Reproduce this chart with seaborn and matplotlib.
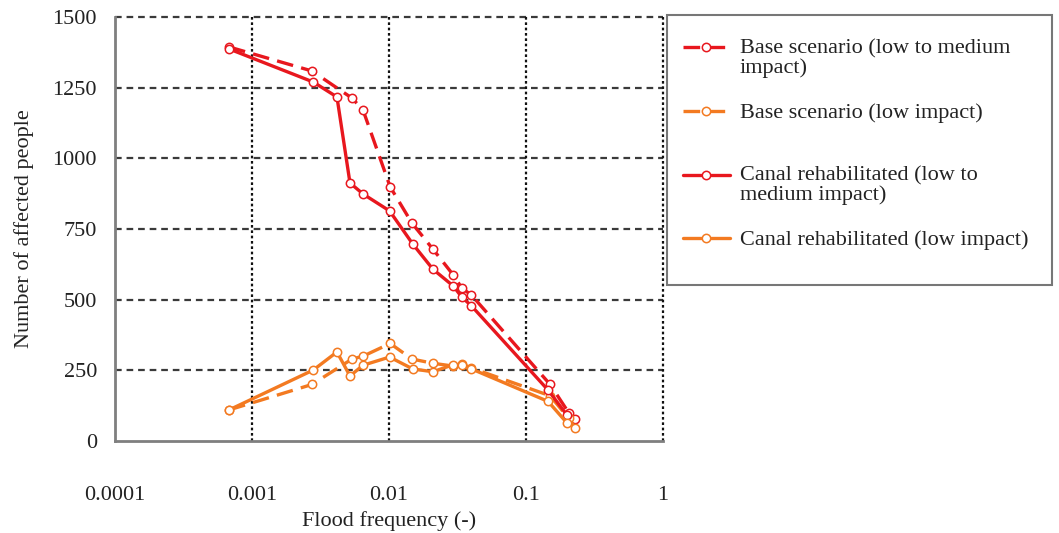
import numpy as np
import pandas as pd
import matplotlib
matplotlib.use("Agg")
import matplotlib.pyplot as plt
import seaborn as sns
from matplotlib.ticker import FixedLocator, FixedFormatter, NullLocator
from matplotlib.legend_handler import HandlerLine2D
from matplotlib.patches import Rectangle

# ---- data ----
base_med_freq = [0.00068, 0.00274, 0.00537, 0.00646, 0.0102, 0.0147, 0.0209, 0.0295, 0.034, 0.040, 0.150, 0.205, 0.228]
base_med_vals = [1394, 1309, 1213, 1171, 899, 771, 679, 587, 541, 516, 200, 100, 78]

base_low_freq = [0.00068, 0.00274, 0.00537, 0.00646, 0.0102, 0.0147, 0.0209, 0.0295, 0.034, 0.040, 0.150, 0.205, 0.228]
base_low_vals = [110, 200, 290, 300, 345, 290, 275, 265, 272, 258, 160, 80, 46]

canal_med_freq = [0.00068, 0.00280, 0.00417, 0.00519, 0.00646, 0.0101, 0.0149, 0.0209, 0.0295, 0.034, 0.040, 0.145, 0.199]
canal_med_vals = [1387, 1270, 1217, 913, 874, 814, 697, 608, 548, 509, 478, 180, 92]

canal_low_freq = [0.00068, 0.00280, 0.00417, 0.00519, 0.00646, 0.0101, 0.0149, 0.0209, 0.0295, 0.034, 0.040, 0.145, 0.199]
canal_low_vals = [110, 251, 315, 230, 268, 297, 255, 245, 270, 268, 255, 140, 64]

labels = ["Base scenario (low to medium\nimpact)",
          "Base scenario (low impact)\n ",
          "Canal rehabilitated (low to\nmedium impact)",
          "Canal rehabilitated (low impact)\n "]

x_ticks = [0.0001, 0.001, 0.01, 0.1, 1]
x_ticklabels = ["0.0001", "0.001", "0.01", "0.1", "1"]
y_ticks = [0, 250, 500, 750, 1000, 1250, 1500]

RED = "#E8171E"
ORANGE = "#F37A21"
FS = 16
LINESP = 1.0

sns.set_style("white")
plt.rcParams['font.family'] = ['Liberation Serif', 'DejaVu Serif']
plt.rcParams['font.size'] = FS

fig = plt.figure(figsize=(10.59, 5.33), dpi=100)
ax = fig.add_axes([115/1059, 1-441/533, (663-115)/1059, (441-17)/533])

series = [
    (base_med_freq, base_med_vals, RED, (5, 2.5)),
    (base_low_freq, base_low_vals, ORANGE, (5, 2.5)),
    (canal_med_freq, canal_med_vals, RED, None),
    (canal_low_freq, canal_low_vals, ORANGE, None),
]
for (fx, vy, col, dash), lab in zip(series, labels):
    df = pd.DataFrame({"f": fx, "n": vy})
    sns.lineplot(data=df, x="f", y="n", ax=ax, sort=False, color=col,
                 linewidth=2.4, marker="o", markersize=6,
                 markerfacecolor="white", markeredgecolor=col, markeredgewidth=1.1,
                 label=lab, zorder=3)
    ln = ax.lines[-1]
    if dash is not None:
        ln.set_dashes(dash)

ax.set_xscale("log")
ax.set_xlim(1e-4, 1)
ax.set_ylim(0, 1500)
ax.xaxis.set_major_locator(FixedLocator(x_ticks))
ax.xaxis.set_major_formatter(FixedFormatter(x_ticklabels))
ax.xaxis.set_minor_locator(NullLocator())
ax.set_yticks(y_ticks)

# grid
for yv in y_ticks[1:]:
    ax.axhline(yv, color="#3a3a3a", lw=1.6, dashes=(3, 2.2), zorder=1, clip_on=False)
for xv in x_ticks[1:]:
    ax.axvline(xv, color="#111111", lw=1.6, dashes=(1.2, 1.2), zorder=1, clip_on=False)

for s in ["top", "right"]:
    ax.spines[s].set_visible(False)
for s in ["left", "bottom"]:
    ax.spines[s].set_color("#7f7f7f")
    ax.spines[s].set_linewidth(2)
ax.tick_params(axis="both", which="major", direction="inout", length=7, width=1.5, color="#555555",
               labelsize=FS, labelcolor="#222222")
ax.tick_params(axis="x", pad=29)
ax.tick_params(axis="y", pad=9.5)

ax.set_xlabel("Flood frequency (-)", fontsize=FS, color="#222222", labelpad=4)
ax.set_ylabel("Number of affected people", fontsize=FS, color="#222222", labelpad=13)


class TopHandler(HandlerLine2D):
    """Place the legend handle level with the first line of a two-line label."""
    def create_artists(self, legend, orig_handle, xdescent, ydescent, width, height, fontsize, trans):
        arts = super().create_artists(legend, orig_handle, xdescent, ydescent, width, height, fontsize, trans)
        shift = 0.5 * LINESP * 0.82 * fontsize + 1.0
        for a in arts:
            a.set_ydata(np.asarray(a.get_ydata()) + shift)
        return arts


h, l = ax.get_legend_handles_labels()
if ax.get_legend():
    ax.get_legend().remove()
leg = fig.legend(h, l, loc="upper left", bbox_to_anchor=(683/1059, 1-39/533),
                 frameon=False, fontsize=FS,
                 handlelength=2.1, handletextpad=0.45, labelspacing=1.12,
                 borderpad=0, borderaxespad=0,
                 handler_map={matplotlib.lines.Line2D: TopHandler()})
for t in leg.get_texts():
    t.set_color("#222222")
    t.set_linespacing(LINESP)

# legend frame
fig.add_artist(Rectangle((667/1059, 1-285/533), (1052-667)/1059, (285-15)/533,
                         transform=fig.transFigure, fill=False, edgecolor="#777777", lw=1.5))

fig.savefig("out.png", dpi=100, facecolor="white")
